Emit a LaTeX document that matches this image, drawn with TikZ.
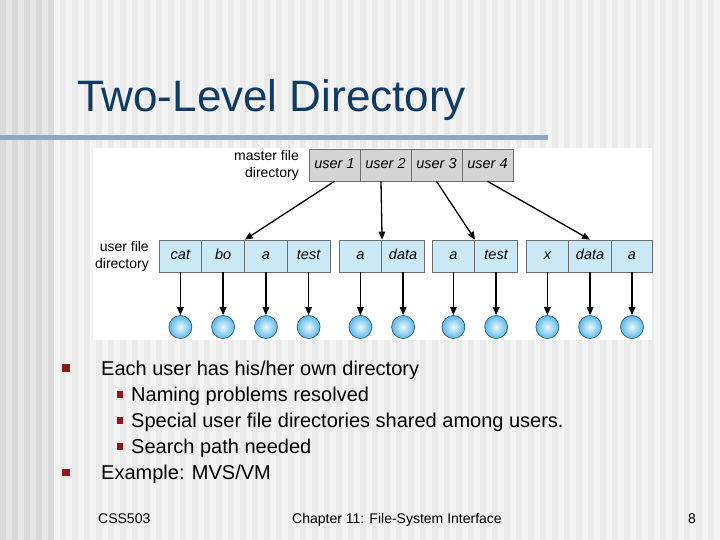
\documentclass[tikz,border=0pt]{standalone}
\usepackage{fontspec}
\setmainfont{Liberation Sans}
\usetikzlibrary{arrows.meta,calc}
\definecolor{titleblue}{HTML}{0F3B64}
\definecolor{barblue}{HTML}{8FA7C2}
\definecolor{cellblue}{HTML}{CBE8F7}
\definecolor{cellgray}{HTML}{D4D4D4}
\definecolor{edgegray}{HTML}{6E6E6E}
\definecolor{bulletred}{HTML}{8B1A1A}
\definecolor{ballin}{HTML}{EAF8FE}
\definecolor{ballout}{HTML}{5DB8E8}
\definecolor{balledge}{HTML}{24607F}
\definecolor{bgA}{HTML}{F4F4F4}
\definecolor{bgB}{HTML}{EAEAEA}
\definecolor{bgC}{HTML}{E6E6E6}
\definecolor{bgD}{HTML}{D9D9D9}
\tikzset{
  ucell/.style={draw=edgegray, line width=0.6pt, fill=cellblue, minimum width=42.75pt, minimum height=32pt, inner sep=0pt, text height=10.5pt, text depth=3pt, font=\fontsize{14.5}{16}\selectfont\itshape},
  mcell/.style={draw=edgegray, line width=0.6pt, fill=cellgray, minimum width=51pt, minimum height=32pt, inner sep=0pt, text height=10.5pt, text depth=3pt, font=\fontsize{14.5}{16}\selectfont\itshape},
  fileball/.style={circle, draw=balledge, line width=0.7pt, minimum size=23pt, inner sep=0pt, shading=radial, inner color=ballin, outer color=ballout},
  ptr/.style={line width=1.3pt, -{Triangle[length=8pt,width=6.5pt]}},
  lbl/.style={inner sep=0pt, font=\fontsize{14}{17}\selectfont},
  body/.style={inner sep=0pt, anchor=base west, font=\fontsize{20}{24}\selectfont},
  foot/.style={inner sep=0pt, anchor=base west, font=\fontsize{14}{16}\selectfont},
  bigbullet/.style={fill=bulletred, minimum size=7.5pt, inner sep=0pt},
  smallbullet/.style={fill=bulletred, minimum size=6.5pt, inner sep=0pt}
}
\begin{document}
\begin{tikzpicture}[x=1pt,y=-1pt]
\useasboundingbox (0,0) rectangle (720,540);
% background
\fill[bgA] (0,0) rectangle (720,540);
\fill[bgC] (0,0) rectangle (54,540);
\foreach \x in {0,12,...,48} \fill[bgD] (\x,0) rectangle (\x+6,540);
\foreach \x in {60,72,...,714} \fill[bgB] (\x,0) rectangle (\x+6,540);
% title
\node[inner sep=0pt, anchor=base west, text=titleblue, font=\fontsize{44}{50}\selectfont] (title) at (77,112) {Two-Level Directory};
\fill[barblue] (0,135) rectangle (548,140);
% figure panel
\fill[white] (93,148) rectangle (652,340);
% master file directory
\node[mcell] (m1) at (334.5,165) {user 1};
\node[mcell] (m2) at (385.5,165) {user 2};
\node[mcell] (m3) at (436.5,165) {user 3};
\node[mcell] (m4) at (487.5,165) {user 4};
\node[lbl, align=right, anchor=east] (mlab) at (299,165.5) {master file\\directory};
% user file directories
\node[ucell] (u1a) at (180.4,256) {cat};
\node[ucell] (u1b) at (223.1,256) {bo};
\node[ucell] (u1c) at (265.9,256) {a};
\node[ucell] (u1d) at (308.6,256) {test};
\node[ucell] (u2a) at (360.4,256) {a};
\node[ucell] (u2b) at (403.1,256) {data};
\node[ucell] (u3a) at (453.4,256) {a};
\node[ucell] (u3b) at (496.1,256) {test};
\node[ucell] (u4a) at (547.4,256) {x};
\node[ucell] (u4b) at (590.1,256) {data};
\node[ucell, minimum width=40.5pt] (u4c) at (632,256) {a};
\node[lbl, align=right, anchor=east] (ulab) at (149,256) {user file\\directory};
% files
\foreach \c/\x in {u1a/180.4,u1b/223.1,u1c/265.9,u1d/308.6,u2a/360.4,u2b/403.1,u3a/453.4,u3b/496.1,u4a/547.4,u4b/590.1,u4c/632}{
  \node[fileball] (f\c) at (\x,327) {};
  \draw[ptr] (\c.south) -- (f\c.north);
}
% master pointers
\coordinate (m2s) at ($(m2.south)+(-4.5,0)$);
\draw[ptr] (m1.south) -- (u1b.north east);
\draw[ptr] (m2s) -- (u2a.north east);
\draw[ptr] (m3.south) -- (u3a.north east);
\draw[ptr] (m4.south) -- (u4b.north);
% bullets
\node[bigbullet] (bb1) at (66,368) {};
\node[body] (t1) at (101,375) {Each user has his/her own directory};
\node[smallbullet] (sb1) at (120,394.5) {};
\node[body] (t2) at (131,401.5) {Naming problems resolved};
\node[smallbullet] (sb2) at (120,420.5) {};
\node[body] (t3) at (131,427.5) {Special user file directories shared among users.};
\node[smallbullet] (sb3) at (120,446.5) {};
\node[body] (t4) at (131,453.5) {Search path needed};
\node[bigbullet] (bb2) at (66,472.5) {};
\node[body] (t5) at (101,479.5) {Example: MVS/VM};
% footer
\node[foot] (f1) at (98,523) {CSS503};
\node[foot] (f2) at (292,523) {Chapter 11: File-System Interface};
\node[foot] (f3) at (688,523) {8};
\end{tikzpicture}
\end{document}
